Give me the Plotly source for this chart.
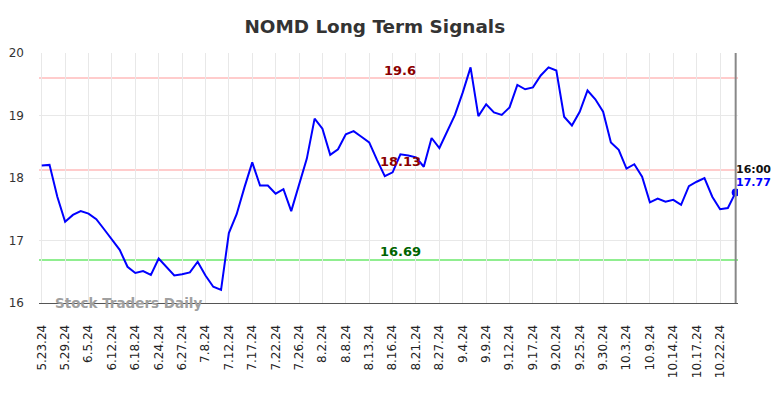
import plotly.graph_objects as go

tick_labels = ["5.23.24", "5.29.24", "6.5.24", "6.12.24", "6.18.24", "6.24.24", "6.27.24",
               "7.8.24", "7.12.24", "7.17.24", "7.22.24", "7.26.24", "8.2.24", "8.8.24",
               "8.13.24", "8.16.24", "8.21.24", "8.27.24", "9.4.24", "9.9.24", "9.12.24",
               "9.17.24", "9.20.24", "9.25.24", "9.30.24", "10.3.24", "10.9.24", "10.14.24",
               "10.17.24", "10.22.24"]

prices = [18.20, 18.21, 17.70, 17.30, 17.41, 17.47, 17.43, 17.34, 17.18, 17.02,
          16.85, 16.58, 16.48, 16.51, 16.45, 16.71, 16.58, 16.44, 16.46, 16.49,
          16.66, 16.44, 16.26, 16.21, 17.12, 17.42, 17.85, 18.25, 17.88, 17.88,
          17.75, 17.82, 17.47, 17.90, 18.31, 18.95, 18.79, 18.37, 18.46, 18.70,
          18.75, 18.66, 18.57, 18.29, 18.03, 18.09, 18.38, 18.36, 18.33, 18.18,
          18.64, 18.48, 18.74, 19.01, 19.37, 19.77, 18.99, 19.18, 19.05, 19.01,
          19.13, 19.49, 19.42, 19.45, 19.64, 19.77, 19.72, 18.98, 18.84, 19.06,
          19.40, 19.26, 19.06, 18.57, 18.45, 18.15, 18.22, 18.02, 17.61, 17.67,
          17.62, 17.65, 17.57, 17.87, 17.94, 18.00, 17.70, 17.50, 17.52, 17.77]

resistance_high = 19.6
resistance_mid = 18.13
support = 16.69
last_time = "16:00"

x = list(range(len(prices)))
tick_step = 3
tickvals = [i * tick_step for i in range(len(tick_labels))]
last_i = x[-1]

fig = go.Figure()

for lvl, col in [(resistance_high, "#ffcccc"), (resistance_mid, "#ffcccc"), (support, "#90ee90")]:
    fig.add_shape(type="line", xref="paper", x0=0, x1=1, yref="y", y0=lvl, y1=lvl,
                  line=dict(color=col, width=2), layer="below")

fig.add_shape(type="line", xref="x", x0=last_i, x1=last_i, yref="paper", y0=0, y1=1,
              line=dict(color="#888888", width=2))

fig.add_trace(go.Scatter(x=x, y=prices, mode="lines",
                         line=dict(color="#0000ff", width=2), hoverinfo="skip"))
fig.add_trace(go.Scatter(x=[last_i], y=[prices[-1]], mode="markers",
                         marker=dict(color="#0000ff", size=8), hoverinfo="skip"))

mid_x = 46
fig.add_annotation(x=mid_x, y=resistance_high, text=f"<b>{resistance_high}</b>", showarrow=False,
                   yshift=8, font=dict(color="#8b0000", size=13, family="DejaVu Sans"))
fig.add_annotation(x=mid_x, y=resistance_mid, text=f"<b>{resistance_mid}</b>", showarrow=False,
                   yshift=8, font=dict(color="#8b0000", size=13, family="DejaVu Sans"))
fig.add_annotation(x=mid_x, y=support, text=f"<b>{support}</b>", showarrow=False,
                   yshift=8, font=dict(color="#006400", size=13, family="DejaVu Sans"))

fig.add_annotation(x=last_i, y=prices[-1], text=f"<b>{last_time}</b>", showarrow=False,
                   xanchor="left", yshift=23, xshift=-2,
                   font=dict(color="#111111", size=11, family="DejaVu Sans"))
fig.add_annotation(x=last_i, y=prices[-1], text=f"<b>{prices[-1]}</b>", showarrow=False,
                   xanchor="left", yshift=10, xshift=-2,
                   font=dict(color="#0000ff", size=11, family="DejaVu Sans"))

fig.add_annotation(xref="paper", yref="paper", x=0.02, y=0.0, xanchor="left", yanchor="middle",
                   text="<b>Stock Traders Daily</b>", showarrow=False,
                   font=dict(color="#a0a0a0", size=13.5, family="DejaVu Sans"))

fig.update_layout(
    width=784, height=398,
    margin=dict(l=39, r=46, t=53, b=95),
    paper_bgcolor="white", plot_bgcolor="white",
    showlegend=False,
    title=dict(text="<b>NOMD Long Term Signals</b>", x=0.478, xanchor="center", y=0.95,
               font=dict(size=18.4, color="#333333", family="DejaVu Sans")),
    xaxis=dict(range=[-0.35, last_i + 0.3], tickmode="array", tickvals=tickvals, ticktext=tick_labels,
               tickangle=-90, showgrid=True, gridcolor="#e8e8e8", gridwidth=1,
               tickfont=dict(size=12, color="#222222", family="DejaVu Sans"),
               showline=True, linecolor="#555555", linewidth=1, zeroline=False, ticks="",
               ticklabelstandoff=16, automargin=False),
    yaxis=dict(range=[16, 20], tickvals=[16, 17, 18, 19, 20], showgrid=True, gridcolor="#e8e8e8",
               tickfont=dict(size=12, color="#333333", family="DejaVu Sans"), zeroline=False,
               ticks="", ticklabelstandoff=14, automargin=False),
)

fig.write_html("out.html", config={"displayModeBar": False},
               post_script="document.body.style.margin='0';")
